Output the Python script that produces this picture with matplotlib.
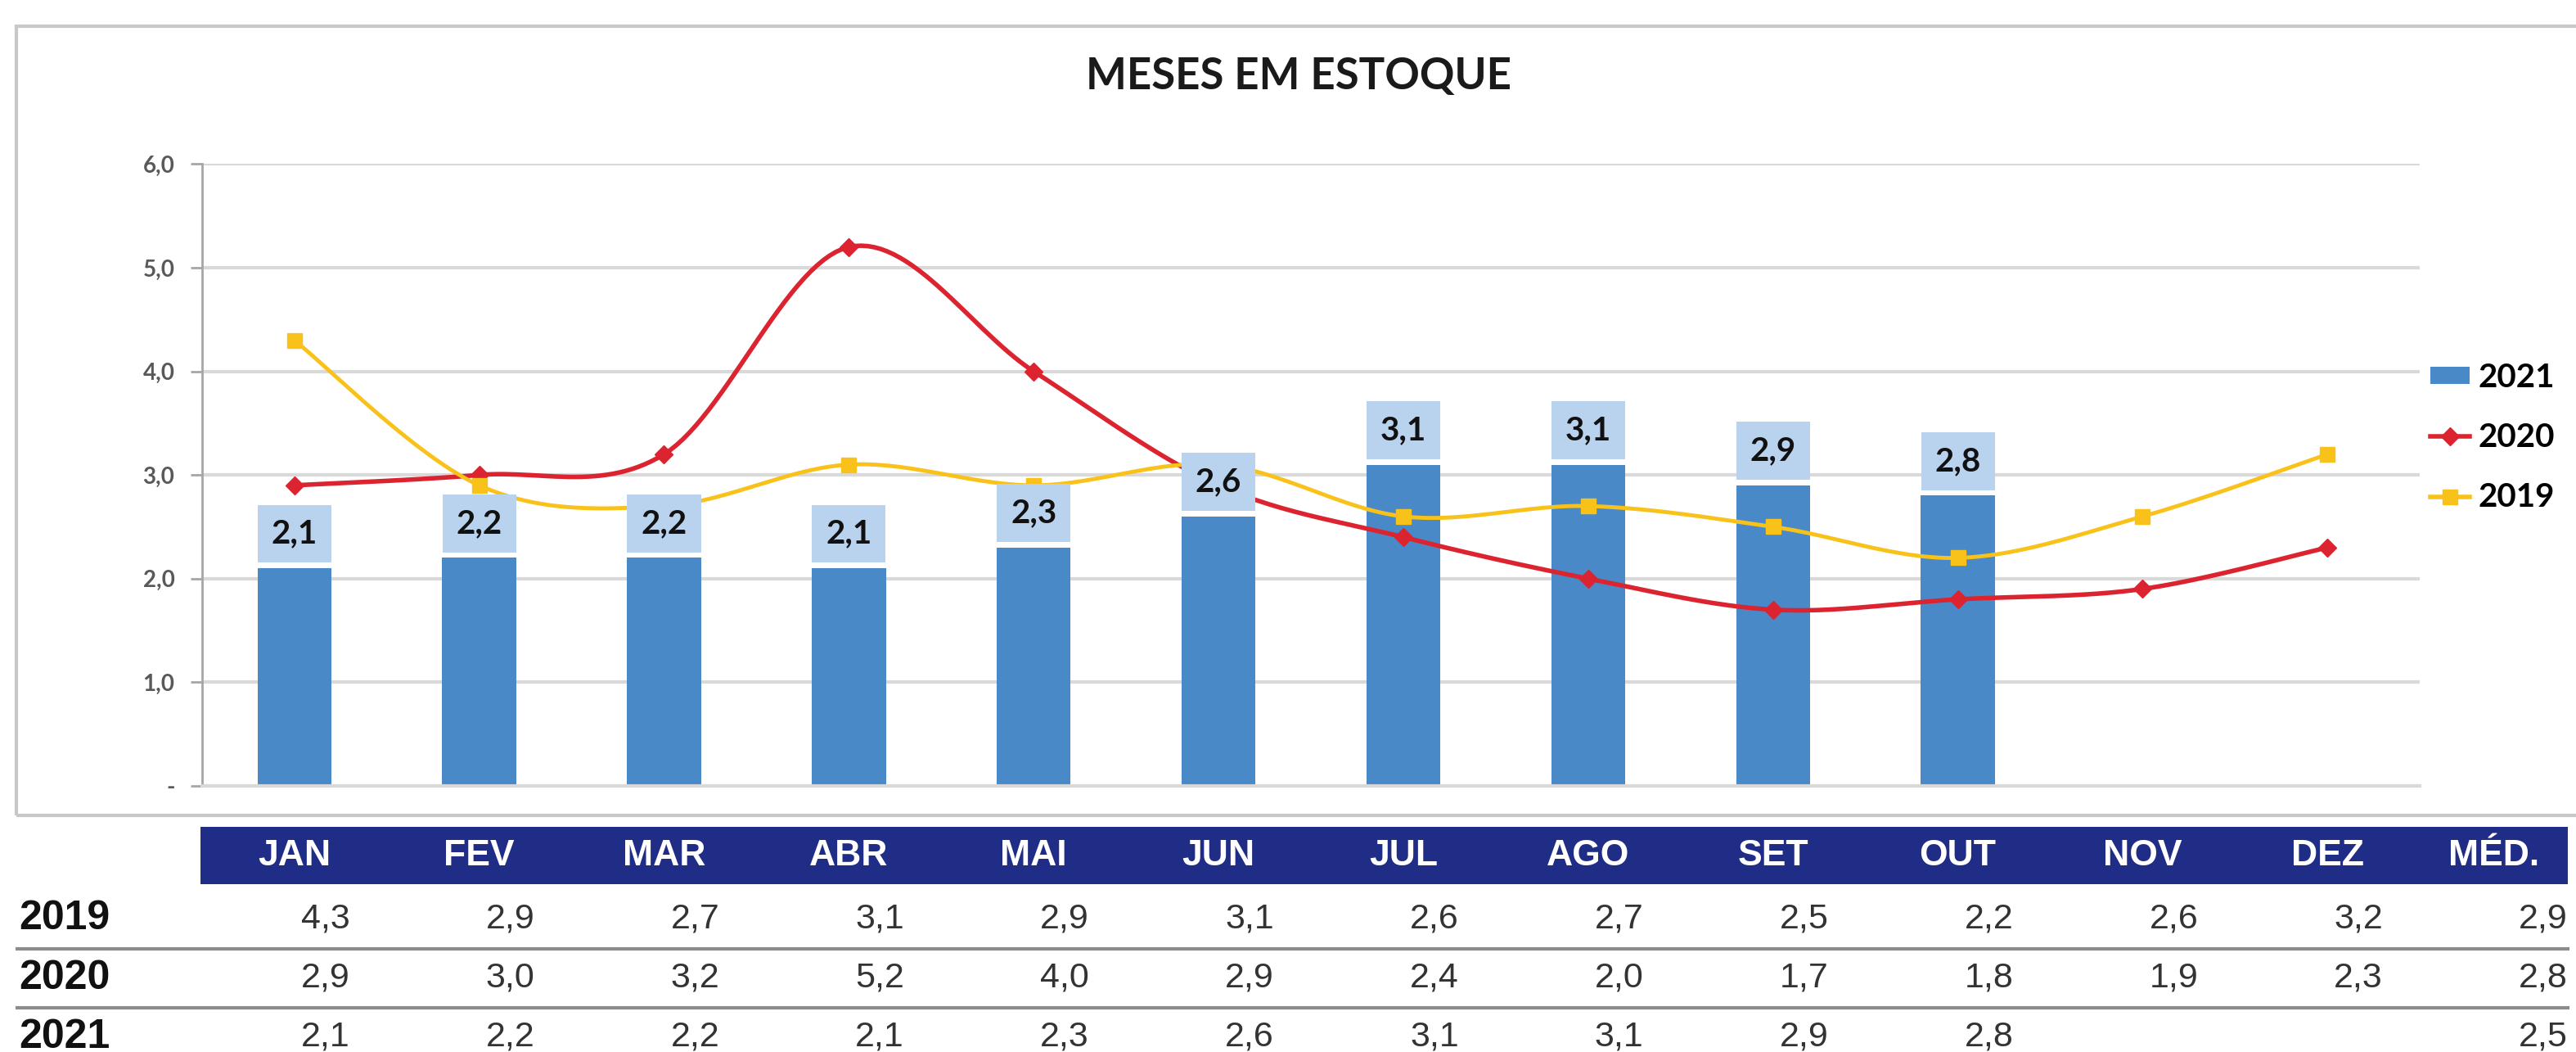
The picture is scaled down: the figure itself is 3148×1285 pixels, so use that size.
import numpy as np
import matplotlib.pyplot as plt
from matplotlib.patches import Rectangle
from matplotlib.lines import Line2D
from matplotlib.patches import Patch
import matplotlib.transforms as mtransforms

meses = ['JAN', 'FEV', 'MAR', 'ABR', 'MAI', 'JUN', 'JUL', 'AGO', 'SET', 'OUT', 'NOV', 'DEZ']
v2019 = [4.3, 2.9, 2.7, 3.1, 2.9, 3.1, 2.6, 2.7, 2.5, 2.2, 2.6, 3.2]
v2020 = [2.9, 3.0, 3.2, 5.2, 4.0, 2.9, 2.4, 2.0, 1.7, 1.8, 1.9, 2.3]
v2021 = [2.1, 2.2, 2.2, 2.1, 2.3, 2.6, 3.1, 3.1, 2.9, 2.8]
medias = {'2019': 2.9, '2020': 2.8, '2021': 2.5}

AZUL = '#4a89c8'
AZUL_CLARO = '#b9d3ee'
VERMELHO = '#dc2430'
AMARELO = '#f9c21a'
MARINHO = '#1f2d86'
CINZA = '#d9d9d9'


def fmt(v):
    return ('%.1f' % v).replace('.', ',')


def suave(x, y, n=30):
    # curva suavizada tipo Excel (bezier com tangentes de Catmull-Rom)
    p = np.column_stack([x, y]).astype(float)
    p = np.vstack([p[0], p, p[-1]])
    t = np.linspace(0, 1, n)[:, None]
    out = []
    for i in range(1, len(p) - 2):
        p0, p1, p2, p3 = p[i - 1], p[i], p[i + 1], p[i + 2]
        c1 = p1 + (p2 - p0) / 6.0
        c2 = p2 - (p3 - p1) / 6.0
        seg = (1 - t) ** 3 * p1 + 3 * (1 - t) ** 2 * t * c1 + 3 * (1 - t) * t ** 2 * c2 + t ** 3 * p2
        out.append(seg)
    out = np.vstack(out)
    return out[:, 0], out[:, 1]


plt.rcParams['font.family'] = ['Lato', 'DejaVu Sans']

fig = plt.figure(figsize=(31.48, 12.85), dpi=100)
fig.patch.set_facecolor('white')

# moldura do grafico
fig.patches.append(Rectangle((0.0064, 0.225), 1.2, 0.75, transform=fig.transFigure,
                             facecolor='none', edgecolor='#c8c8c8', linewidth=3))

ax = fig.add_axes([0.0784, 0.253, 0.8610, 0.591])
x = np.arange(len(meses))

ax.bar(x[:len(v2021)], v2021, width=0.4, color=AZUL, zorder=2)
for i, v in enumerate(v2021):
    ax.annotate(fmt(v), (i, v), xytext=(0, 17), textcoords='offset points',
                ha='center', va='bottom', fontsize=29, fontweight='bold', color='#111111',
                bbox=dict(boxstyle='square,pad=0.42', facecolor=AZUL_CLARO, edgecolor='none'),
                zorder=5)

xs, ys = suave(x, v2020)
ax.plot(xs, ys, color=VERMELHO, lw=4, zorder=3)
ax.plot(x, v2020, ls='none', marker='D', ms=11, color=VERMELHO, zorder=3)
xs, ys = suave(x, v2019)
ax.plot(xs, ys, color=AMARELO, lw=3.5, zorder=3)
ax.plot(x, v2019, ls='none', marker='s', ms=13, color=AMARELO, zorder=3)

ax.set_xlim(-0.5, 11.5)
ax.set_ylim(0, 6)
ax.set_yticks(np.arange(0, 7, 1))
ax.set_yticklabels(['-'] + [fmt(v) for v in range(1, 7)])
ax.set_xticks([])
ax.grid(axis='y', color=CINZA, lw=3, zorder=0)
for s in ['top', 'right']:
    ax.spines[s].set_visible(False)
ax.spines['left'].set_color('#a6a6a6')
ax.spines['left'].set_linewidth(2)
ax.spines['bottom'].set_color(CINZA)
ax.spines['bottom'].set_linewidth(3)
ax.tick_params(axis='y', length=10, width=2, color='#a6a6a6', pad=14,
               labelsize=20, labelcolor='#595959')
for lb in ax.get_yticklabels():
    lb.set_fontweight('bold')

fig.text(0.504, 0.927, 'MESES EM ESTOQUE', ha='center', va='center',
         fontsize=38, fontweight='bold', color='#1a1a1a')

handles = [Patch(facecolor=AZUL, edgecolor='none'),
           Line2D([], [], color=VERMELHO, lw=4, marker='D', ms=11),
           Line2D([], [], color=AMARELO, lw=4, marker='s', ms=13)]
fig.legend(handles, ['2021', '2020', '2019'], loc='center left',
           bbox_to_anchor=(0.9435, 0.584), frameon=False, handlelength=1.2,
           handleheight=0.45, handletextpad=0.25, labelspacing=0.9,
           prop={'weight': 'bold', 'size': 29}, borderaxespad=0, borderpad=0)

# tabela abaixo do grafico
tr = mtransforms.blended_transform_factory(ax.transData, fig.transFigure)
tab_font = ['Liberation Sans', 'DejaVu Sans']
fig.patches.append(Rectangle((-0.51, 0.1594), 12.81, 0.0547, transform=tr,
                             facecolor=MARINHO, edgecolor='none'))
for i, m in enumerate(meses + ['MÉD.']):
    xc = i if i < 12 else 11.9
    fig.text(xc, 0.186, m, transform=tr, ha='center', va='center', color='white',
             fontsize=32, fontweight='bold', family=tab_font)

linhas = [('2019', v2019, 0.1266), ('2020', v2020, 0.0703), ('2021', v2021, 0.0141)]
for ano, vals, yc in linhas:
    fig.text(-1.49, yc, ano, transform=tr, ha='left', va='center', color='#111111',
             fontsize=36, fontweight='bold', family=tab_font)
    for i, v in enumerate(vals):
        fig.text(i + 0.3, yc, fmt(v), transform=tr, ha='right', va='center',
                 color='#333333', fontsize=31, family=tab_font)
    fig.text(12.3, yc, fmt(medias[ano]), transform=tr, ha='right', va='center',
             color='#333333', fontsize=31, family=tab_font)

for yl in [0.0984, 0.0422]:
    fig.lines.append(Line2D([-1.5, 12.3], [yl, yl], transform=tr, color='#8c8c8c', lw=3))

fig.savefig('out.png', dpi=100, facecolor='white')
